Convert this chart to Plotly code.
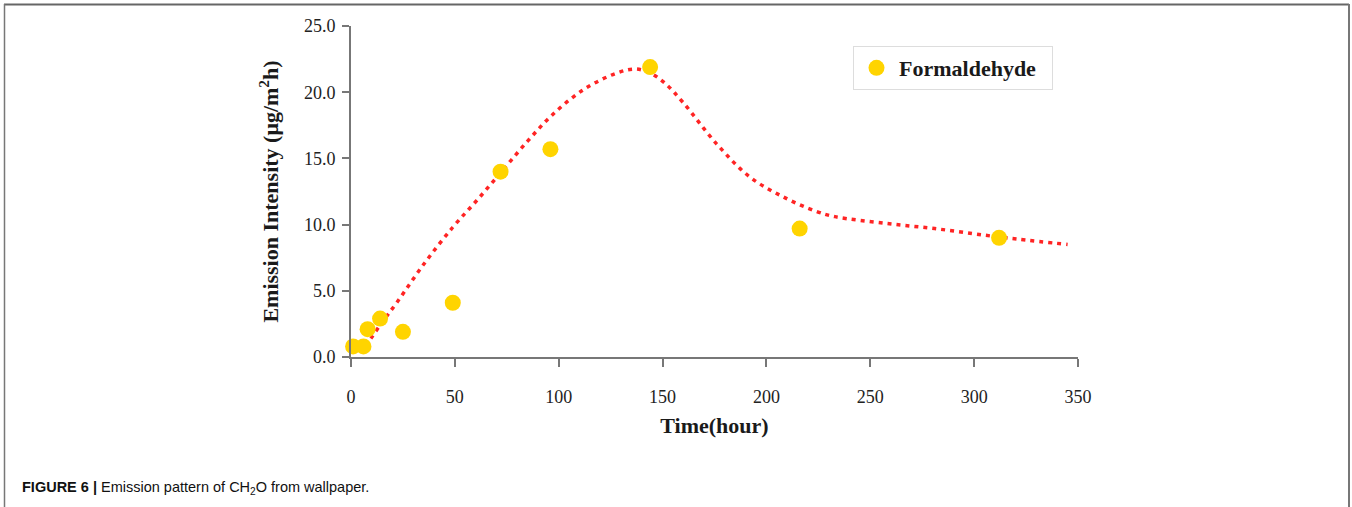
import plotly.graph_objects as go

# Measured points (Formaldehyde)
time_h = [1, 6, 8, 14, 25, 49, 72, 96, 144, 216, 312]
emission = [0.8, 0.8, 2.1, 2.9, 1.9, 4.1, 14.0, 15.7, 21.9, 9.7, 9.0]

# Fitted trend curve (red dotted)
curve_x = [7, 14, 22, 35, 49, 61, 73, 85, 97, 112, 128, 137, 144, 151, 160, 176, 192, 208, 224, 233, 257, 281, 305, 321, 345]
curve_y = [0.8, 2.4, 4.1, 7.0, 9.8, 11.9, 14.1, 16.3, 18.3, 20.2, 21.45, 21.75, 21.45, 20.7, 19.2, 16.1, 13.6, 12.1, 11.0, 10.6, 10.1, 9.7, 9.2, 8.9, 8.5]

x_ticks = [0, 50, 100, 150, 200, 250, 300, 350]
y_ticks = [0, 5, 10, 15, 20, 25]

W, H = 1352, 507
L, R, T, B = 351, 274, 26, 150
PW, PH = W - L - R, H - T - B

def px(x):
    return (x - L) / PW

def py(y):
    return 1 - (y - T) / PH

serif = "Liberation Serif, Times New Roman, serif"
axis_col = "#777777"

fig = go.Figure()
fig.add_trace(go.Scatter(
    x=curve_x, y=curve_y, mode="lines", line=dict(color="#FF2424", width=3.5, dash="4px,5px", shape="spline"),
    showlegend=False, hoverinfo="skip", cliponaxis=False,
))
fig.add_trace(go.Scatter(
    x=time_h, y=emission, mode="markers", name="Formaldehyde\u00a0\u00a0",
    marker=dict(color="#FFD400", size=16, line=dict(width=0)), cliponaxis=False,
))

fig.update_layout(
    width=W, height=H, margin=dict(l=L, r=R, t=T, b=B, autoexpand=False),
    paper_bgcolor="white", plot_bgcolor="white",
    font=dict(family=serif, color="#222222", size=18),
    legend=dict(
        x=px(853), y=py(46), xanchor="left", yanchor="top",
        bordercolor="#dddddd", borderwidth=1, bgcolor="white",
        font=dict(family=serif, size=22, color="#1a1a1a", weight="bold"),
        itemsizing="trace", itemwidth=35,
    ),
    xaxis=dict(
        range=[0, 350], tickvals=x_ticks, ticktext=[str(v) for v in x_ticks],
        showgrid=False, zeroline=False, showline=True, linecolor=axis_col, linewidth=2,
        ticks="outside", ticklen=8, tickwidth=1.5, tickcolor=axis_col, ticklabelstandoff=14,
        title=dict(text="<b>Time(hour)</b>", font=dict(family=serif, size=22, color="#1a1a1a"), standoff=12),
    ),
    yaxis=dict(
        range=[0, 25], tickvals=y_ticks, ticktext=[f"{v:.1f}" for v in y_ticks],
        showgrid=False, zeroline=False, showline=True, linecolor=axis_col, linewidth=2,
        ticks="outside", ticklen=7, tickwidth=1.5, tickcolor=axis_col, ticklabelstandoff=3,
        title=dict(text="<b>Emission Intensity (μg/m<sup>2</sup>h)</b>", font=dict(family=serif, size=22, color="#1a1a1a"), standoff=19),
    ),
    shapes=[
        dict(type="line", xref="paper", yref="paper", x0=px(4), x1=px(1349), y0=py(4.5), y1=py(4.5), line=dict(color="#666666", width=2)),
        dict(type="line", xref="paper", yref="paper", x0=px(4.5), x1=px(4.5), y0=py(4), y1=py(507), line=dict(color="#777777", width=1.5)),
        dict(type="line", xref="paper", yref="paper", x0=px(1349), x1=px(1349), y0=py(4), y1=py(507), line=dict(color="#777777", width=2)),
    ],
    annotations=[
        dict(xref="paper", yref="paper", x=px(20), y=py(488), xanchor="left", yanchor="middle", showarrow=False,
             text="<b>FIGURE 6 |</b> Emission pattern of CH<sub>2</sub>O from wallpaper.",
             font=dict(family="Liberation Sans, Arial, sans-serif", size=14.5, color="#111111")),
    ],
)

fig.write_html("out.html", config={"displayModeBar": False}, post_script="document.body.style.margin='0';")
